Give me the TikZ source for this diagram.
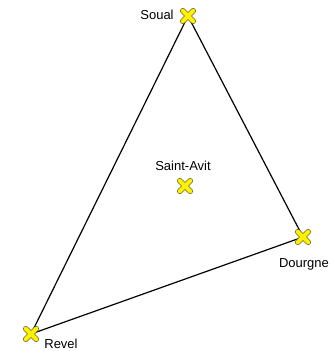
\documentclass[tikz,border=0pt]{standalone}
\usepackage{fontspec}
\setmainfont{Liberation Sans}
\begin{document}
\begin{tikzpicture}[x=1pt,y=-1pt,
  lbl/.style={font=\fontsize{13}{15}\selectfont, inner sep=0pt},
  edge/.style={line width=1.2pt, black},
  pt/.style={inner sep=0pt, minimum size=1pt}]
\useasboundingbox (0,0) rectangle (333,351);
\tikzset{cross/.pic={
  \draw[line width=5.6pt, color=olive!70!black, line cap=round] (-5.2,-5.2) -- (5.2,5.2) (-5.2,5.2) -- (5.2,-5.2);
  \draw[line width=4pt, color=yellow, line cap=round] (-5.2,-5.2) -- (5.2,5.2) (-5.2,5.2) -- (5.2,-5.2);
}}
\node[pt] (soual) at (188,16) {};
\node[pt] (avit) at (185,186) {};
\node[pt] (dourgne) at (303,237) {};
\node[pt] (revel) at (31,334) {};
\draw[edge] (soual.center) -- (dourgne.center) -- (revel.center) -- (soual.center);
\pic at (soual) {cross};
\pic at (avit) {cross};
\pic at (dourgne) {cross};
\pic at (revel) {cross};
\node[lbl] (tsoual) at (157,15) {Soual};
\node[lbl] (tavit) at (183,166) {Saint-Avit};
\node[lbl] (tdourgne) at (304,264) {Dourgne};
\node[lbl] (trevel) at (61,344) {Revel};
\end{tikzpicture}
\end{document}
